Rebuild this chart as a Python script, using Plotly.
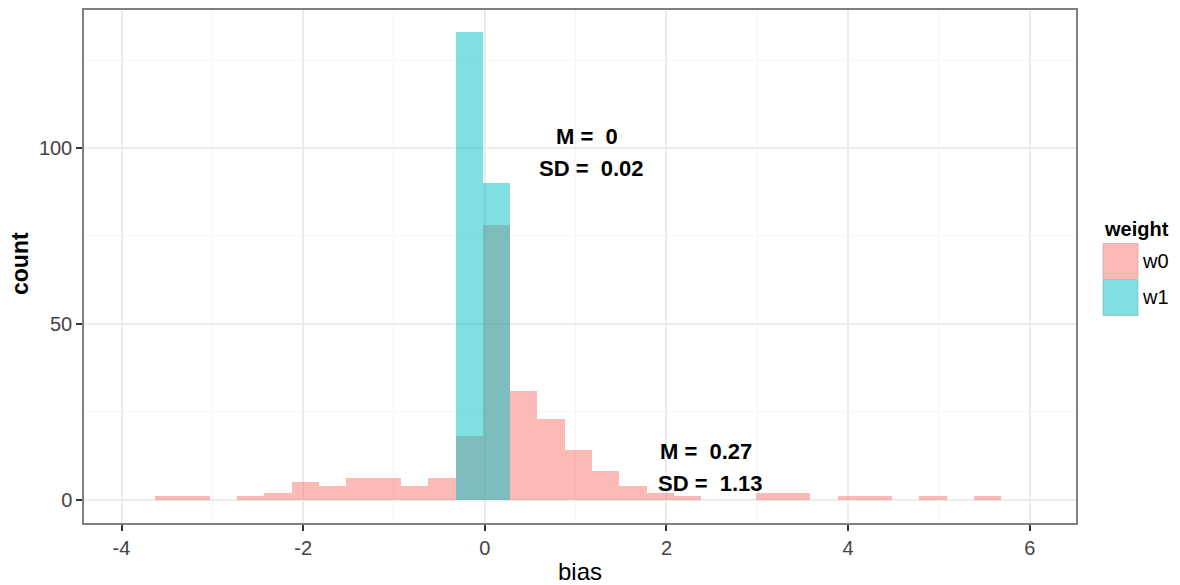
import plotly.graph_objects as go

# ---- data ----
bin_centers = [-3.478, -3.177, -2.877, -2.576, -2.276, -1.975, -1.675, -1.374, -1.074, -0.773,
               -0.473, -0.172, 0.128, 0.429, 0.729, 1.030, 1.330, 1.631, 1.931, 2.232,
               2.532, 2.833, 3.133, 3.434, 3.734, 4.035, 4.335, 4.636, 4.936, 5.237, 5.537]
bin_width = 0.3005
counts_w0 = [1, 1, 0, 1, 2, 5, 4, 6, 6, 4,
             6, 18, 78, 31, 23, 14, 8, 4, 2, 1,
             0, 0, 2, 2, 0, 1, 1, 0, 1, 0, 1]
counts_w1 = [0, 0, 0, 0, 0, 0, 0, 0, 0, 0,
             0, 133, 90, 0, 0, 0, 0, 0, 0, 0,
             0, 0, 0, 0, 0, 0, 0, 0, 0, 0, 0]
series_names = ["w0", "w1"]
series_colors = ["rgba(248,118,109,0.5)", "rgba(0,191,196,0.5)"]

annot_x = [1.13, 1.17, 2.44, 2.48]
annot_y = [103.2, 94.1, 13.6, 4.7]
annot_text = ["M =\u00a0 0", "SD =\u00a0 0.02", "M =\u00a0 0.27", "SD =\u00a0 1.13"]

x_ticks = [-4, -2, 0, 2, 4, 6]
x_ticktext = ["-4", "-2", "0", "2", "4", "6"]
y_ticks = [0, 50, 100]
y_ticktext = ["0", "50", "100"]

FONT = "Liberation Sans, Arial, sans-serif"

fig = go.Figure()
for name, vals, col in zip(series_names, [counts_w0, counts_w1], series_colors):
    fig.add_trace(go.Bar(
        x=bin_centers, y=vals, width=bin_width, name=name,
        marker=dict(color=col, line=dict(width=0)),
        showlegend=False,
    ))

for tx, ty, tt in zip(annot_x, annot_y, annot_text):
    fig.add_annotation(x=tx, y=ty, text="<b>" + tt + "</b>", showarrow=False,
                       xref="x", yref="y", font=dict(family=FONT, size=22, color="black"))

# ---- layout geometry (page body has an 8px margin) ----
OFF = 8
W, H = 1180 - OFF, 585 - OFF
ml, mr, mt, mb = 84 - OFF, 104, 10 - OFF, 62
pw, ph = W - ml - mr, H - mt - mb


def px2paper(px, py):
    # px, py are reference-image pixel coordinates
    fx, fy = px - OFF, py - OFF
    return (fx - ml) / pw, (H - mb - fy) / ph


# ---- custom legend (paper coords) ----
lx0, lx1 = 1103, 1138
key_tops = [243.5, 279.5]
key_h = 36
for i, (name, col) in enumerate(zip(series_names, series_colors)):
    x0, y0 = px2paper(lx0, key_tops[i] + key_h)
    x1, y1 = px2paper(lx1, key_tops[i])
    fig.add_shape(type="rect", xref="paper", yref="paper", x0=x0, x1=x1, y0=y0, y1=y1,
                  fillcolor="white", line=dict(color="#CCCCCC", width=1), layer="above")
    fig.add_shape(type="rect", xref="paper", yref="paper", x0=x0, x1=x1, y0=y0, y1=y1,
                  fillcolor=col, line=dict(width=0), layer="above")
    tx, ty = px2paper(1140, key_tops[i] + key_h / 2)
    fig.add_annotation(x=tx, y=ty, xref="paper", yref="paper", text=name, showarrow=False,
                       xanchor="left", yanchor="middle",
                       font=dict(family=FONT, size=20, color="black"))

tx, ty = px2paper(1102, 229)
fig.add_annotation(x=tx, y=ty, xref="paper", yref="paper", text="<b>weight</b>", showarrow=False,
                   xanchor="left", yanchor="middle", font=dict(family=FONT, size=20, color="black"))

# ---- axis titles (paper coords) ----
tx, ty = px2paper(580, 571)
fig.add_annotation(x=tx, y=ty, xref="paper", yref="paper", text="bias", showarrow=False,
                   xanchor="center", yanchor="middle", font=dict(family=FONT, size=24, color="black"))
tx, ty = px2paper(20, 264)
fig.add_annotation(x=tx, y=ty, xref="paper", yref="paper", text="<b>count</b>", showarrow=False,
                   textangle=-90, xanchor="center", yanchor="middle",
                   font=dict(family=FONT, size=23, color="black"))

axis_common = dict(
    showline=True, linecolor="#7F7F7F", linewidth=1.5, mirror=True,
    ticks="outside", ticklen=6, tickwidth=1.5, tickcolor="#333333",
    showgrid=True, gridcolor="#EBEBEB", gridwidth=1.5, zeroline=False,
    tickfont=dict(family=FONT, size=20, color="#444444"),
    automargin=False,
)

fig.update_layout(
    width=W, height=H,
    margin=dict(l=ml, r=mr, t=mt, b=mb),
    barmode="overlay", bargap=0,
    plot_bgcolor="white", paper_bgcolor="white",
    showlegend=False,
    xaxis=dict(range=[-4.413, 6.509], tickvals=x_ticks, ticktext=x_ticktext,
               minor=dict(dtick=1, tick0=-5, showgrid=True, gridcolor="#F5F5F5", gridwidth=1, ticks=""),
               **axis_common),
    yaxis=dict(range=[-6.67, 139.3], tickvals=y_ticks, ticktext=y_ticktext,
               minor=dict(dtick=25, tick0=0, showgrid=True, gridcolor="#F5F5F5", gridwidth=1, ticks=""),
               **axis_common),
)

fig.write_html("out.html")
